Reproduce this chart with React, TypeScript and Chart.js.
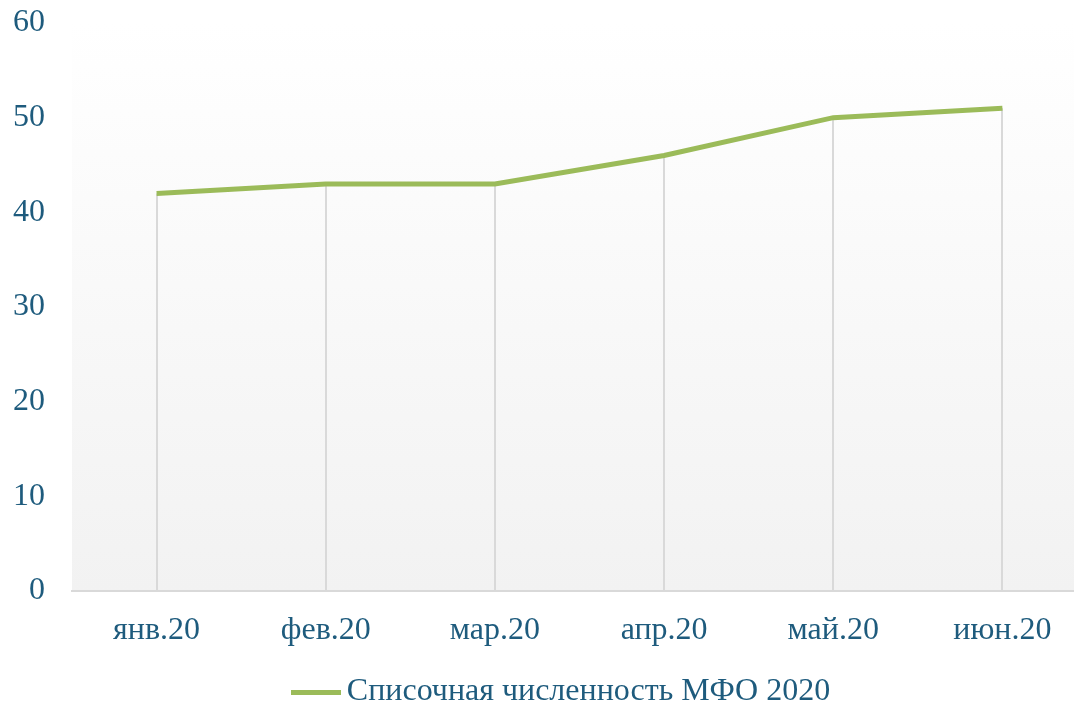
import React, { useEffect, useRef } from "react";
import { Chart, registerables } from "chart.js";

Chart.register(...registerables);

const categories = ["янв.20", "фев.20", "мар.20", "апр.20", "май.20", "июн.20"];
const seriesLabel = "Списочная численность МФО 2020";
const seriesValues = [42, 43, 43, 46, 50, 51];
const yMin = 0;
const yMax = 60;
const yStep = 10;

const TEXT = "#1E5B7D";
const GREEN = "#9BBB59";
const GRID = "#D9D9D9";
const FONT = "'Liberation Serif', 'Times New Roman', serif";
const FONT_SIZE = 32;

const LEGEND_DX = 22;
const LEGEND_DY = 14;

function makeLegendSwatch(): HTMLCanvasElement {
  const c = document.createElement("canvas");
  c.width = 50;
  c.height = 5;
  const cx = c.getContext("2d");
  if (cx) {
    cx.fillStyle = GREEN;
    cx.fillRect(0, 0, 50, 5);
  }
  return c;
}

const bgPlugin = {
  id: "plotBg",
  beforeDraw(chart: any) {
    const { ctx, chartArea } = chart;
    if (!chartArea) return;
    const g = ctx.createLinearGradient(0, chartArea.top, 0, chartArea.bottom);
    g.addColorStop(0, "#FFFFFF");
    g.addColorStop(1, "#F2F2F2");
    ctx.save();
    ctx.fillStyle = g;
    ctx.fillRect(chartArea.left, chartArea.top, chartArea.right - chartArea.left, chartArea.bottom - chartArea.top);
    ctx.restore();
  },
};

const dropLinePlugin = {
  id: "dropLines",
  beforeDatasetsDraw(chart: any) {
    const { ctx, chartArea } = chart;
    const meta = chart.getDatasetMeta(0);
    ctx.save();
    ctx.strokeStyle = GRID;
    ctx.lineWidth = 2;
    meta.data.forEach((pt: any) => {
      const x = Math.round(pt.x);
      ctx.beginPath();
      ctx.moveTo(x, pt.y);
      ctx.lineTo(x, chartArea.bottom);
      ctx.stroke();
    });
    ctx.restore();
  },
};

const legendShiftPlugin = {
  id: "legendShift",
  afterLayout(chart: any) {
    const lg = chart.legend;
    if (!lg) return;
    lg.left += LEGEND_DX;
    lg.right += LEGEND_DX;
    lg.top += LEGEND_DY;
    lg.bottom += LEGEND_DY;
  },
};

export default function App() {
  const ref = useRef<HTMLCanvasElement | null>(null);

  useEffect(() => {
    if (!ref.current) return;
    const swatch = makeLegendSwatch();
    const chart = new Chart(ref.current, {
      type: "line",
      data: {
        labels: categories,
        datasets: [
          {
            label: seriesLabel,
            data: seriesValues,
            borderColor: GREEN,
            backgroundColor: GREEN,
            borderWidth: 5,
            pointRadius: 0,
            pointHoverRadius: 0,
            tension: 0,
            fill: false,
          },
        ],
      },
      options: {
        animation: false,
        responsive: false,
        maintainAspectRatio: false,
        layout: { padding: { left: 0, right: 3, top: 23, bottom: 0 } },
        plugins: {
          tooltip: { enabled: false },
          legend: {
            display: true,
            position: "bottom",
            labels: {
              usePointStyle: true,
              pointStyleWidth: 30,
              boxHeight: FONT_SIZE,
              color: TEXT,
              font: { family: FONT, size: FONT_SIZE, lineHeight: 1.2 },
              padding: 4,
              generateLabels: () => [
                {
                  text: seriesLabel,
                  fillStyle: GREEN,
                  strokeStyle: GREEN,
                  lineWidth: 0,
                  pointStyle: swatch,
                  fontColor: TEXT,
                  datasetIndex: 0,
                  hidden: false,
                } as any,
              ],
            },
          },
        },
        scales: {
          x: {
            offset: true,
            grid: { display: false, drawTicks: false },
            border: { display: true, color: GRID, width: 2 },
            ticks: {
              color: TEXT,
              font: { family: FONT, size: FONT_SIZE },
              padding: 20,
              maxRotation: 0,
              autoSkip: false,
            },
            afterFit(scale: any) {
              scale.height = 67;
            },
          },
          y: {
            min: yMin,
            max: yMax,
            grid: {
              display: true,
              drawOnChartArea: false,
              drawTicks: true,
              tickLength: 27,
              color: "rgba(0,0,0,0)",
            },
            border: { display: false },
            ticks: {
              stepSize: yStep,
              color: TEXT,
              font: { family: FONT, size: FONT_SIZE },
              padding: 0,
            },
            afterFit(scale: any) {
              scale.width = 72;
            },
          },
        },
      },
      plugins: [bgPlugin, dropLinePlugin, legendShiftPlugin],
    });
    return () => chart.destroy();
  }, []);

  return (
    <div
      style={{
        position: "fixed",
        left: 0,
        top: 0,
        width: 1074,
        height: 704,
        overflow: "hidden",
        background: "#FFFFFF",
      }}
    >
      <canvas ref={ref} width={1090} height={704} style={{ width: 1090, height: 704, display: "block" }} />
    </div>
  );
}
